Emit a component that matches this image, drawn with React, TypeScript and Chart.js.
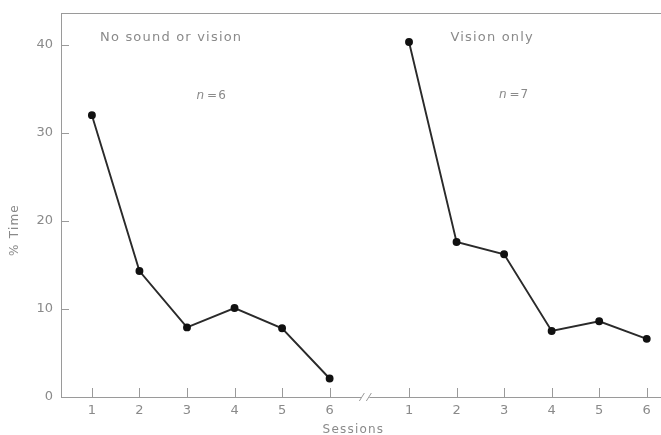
import React, { useEffect, useRef } from "react";
import { Chart, registerables } from "chart.js";

Chart.register(...registerables);

// Data
const sessions = [1, 2, 3, 4, 5, 6];
const noSoundOrVision = [32.0, 14.3, 7.9, 10.1, 7.8, 2.1];
const visionOnly = [40.3, 17.6, 16.2, 7.5, 8.6, 6.6];
const yTicks = [0, 10, 20, 30, 40];
const groupOffset = 6.67; // x offset of second group (after axis break)
const panelTitles = ["No sound or vision", "Vision only"];
const panelN = ["6", "7"];

const TEXT = "#8a8a8a";
const AXIS = "#9a9a9a";

const xPositions = [
  ...sessions.map((s) => s),
  ...sessions.map((s) => s + groupOffset),
];

const overlay = {
  id: "overlay",
  afterDraw(chart: any) {
    const { ctx, chartArea } = chart;
    const xs = chart.scales.x;
    const ys = chart.scales.y;
    ctx.save();
    ctx.strokeStyle = AXIS;
    ctx.lineWidth = 1;
    // top border
    ctx.beginPath();
    ctx.moveTo(chartArea.left, chartArea.top + 0.5);
    ctx.lineTo(chartArea.right, chartArea.top + 0.5);
    ctx.stroke();
    // y ticks (inward)
    yTicks.forEach((v) => {
      const py = Math.round(ys.getPixelForValue(v)) + 0.5;
      ctx.beginPath();
      ctx.moveTo(chartArea.left, py);
      ctx.lineTo(chartArea.left + 8, py);
      ctx.stroke();
    });
    // x ticks (inward)
    xPositions.forEach((v) => {
      const px = Math.round(xs.getPixelForValue(v)) + 0.5;
      ctx.beginPath();
      ctx.moveTo(px, chartArea.bottom + 1);
      ctx.lineTo(px, chartArea.bottom - 9);
      ctx.stroke();
    });
    // axis break mark
    const bx = xs.getPixelForValue(6 + (groupOffset - 5) * 0.45);
    const by = chartArea.bottom;
    ctx.fillStyle = "#ffffff";
    ctx.fillRect(bx - 4, by - 2, 8, 4);
    ctx.beginPath();
    ctx.moveTo(bx - 6, by + 4);
    ctx.lineTo(bx - 1, by - 4);
    ctx.moveTo(bx + 1, by + 4);
    ctx.lineTo(bx + 6, by - 4);
    ctx.stroke();

    // texts
    ctx.fillStyle = TEXT;
    ctx.textBaseline = "middle";
    ctx.font = "13px 'DejaVu Sans'";
    (ctx as any).letterSpacing = "1.2px";
    ctx.textAlign = "left";
    ctx.fillText(panelTitles[0], xs.getPixelForValue(1.17), 38);
    ctx.fillText(panelTitles[1], xs.getPixelForValue(8.54), 38);
    ctx.font = "italic 12px 'DejaVu Sans'";
    (ctx as any).letterSpacing = "1px";
    ctx.fillText("n", xs.getPixelForValue(3.2), 96);
    ctx.fillText("n", xs.getPixelForValue(9.56), 95);
    ctx.font = "12px 'DejaVu Sans'";
    const w = ctx.measureText("n").width;
    ctx.fillText("=" + panelN[0], xs.getPixelForValue(3.2) + w + 2, 96);
    ctx.fillText("=" + panelN[1], xs.getPixelForValue(9.56) + w + 2, 95);

    // axis titles
    ctx.font = "12px 'DejaVu Sans'";
    (ctx as any).letterSpacing = "1.2px";
    ctx.textAlign = "center";
    ctx.fillText("Sessions", xs.getPixelForValue(6 + (groupOffset - 5) * 0.3), 430);
    ctx.translate(15, 230);
    ctx.rotate(-Math.PI / 2);
    ctx.fillText("% Time", 0, 0);
    ctx.restore();
  },
};

export default function App() {
  const ref = useRef<HTMLCanvasElement>(null);
  useEffect(() => {
    document.body.style.margin = "0";
    document.body.style.background = "#ffffff";
    const mk = (vals: number[], off: number) =>
      vals.map((v, i) => ({ x: sessions[i] + off, y: v }));
    const ds = (label: string, data: any) => ({
      label,
      data,
      borderColor: "#2a2a2a",
      borderWidth: 1.9,
      pointBackgroundColor: "#111",
      pointBorderColor: "#111",
      pointRadius: 3,
    });
    const chart = new Chart(ref.current!, {
      type: "line",
      data: {
        datasets: [
          ds(panelTitles[0], mk(noSoundOrVision, 0)),
          ds(panelTitles[1], mk(visionOnly, groupOffset)),
        ],
      },
      options: {
        animation: false,
        responsive: false,
        layout: { autoPadding: false, padding: { top: 13, right: 0, left: 0, bottom: 0 } },
        plugins: { legend: { display: false }, tooltip: { enabled: false } },
        scales: {
          x: {
            type: "linear",
            min: 0.35,
            max: 12.97,
            afterBuildTicks: (scale: any) => {
              scale.ticks = xPositions.map((v) => ({ value: v }));
            },
            afterFit: (scale: any) => {
              scale.height = 38;
              scale.paddingLeft = 0;
              scale.paddingRight = 0;
            },
            grid: { display: false, drawTicks: false },
            border: { display: true, color: AXIS, width: 1 },
            ticks: {
              autoSkip: false,
              maxRotation: 0,
              padding: 6,
              color: TEXT,
              font: { family: "'DejaVu Sans'", size: 13 },
              callback: (v: any) => {
                const n = Number(v);
                return String(Math.round(n > 6.5 ? n - groupOffset : n));
              },
            },
          },
          y: {
            type: "linear",
            min: 0,
            max: 43.6,
            afterBuildTicks: (scale: any) => {
              scale.ticks = yTicks.map((v) => ({ value: v }));
            },
            afterFit: (scale: any) => {
              scale.width = 61;
              scale.paddingTop = 0;
              scale.paddingBottom = 0;
            },
            grid: { display: false, drawTicks: false },
            border: { display: true, color: AXIS, width: 1 },
            ticks: {
              padding: 8,
              color: TEXT,
              font: { family: "'DejaVu Sans'", size: 13 },
            },
          },
        },
      },
      plugins: [overlay],
    });
    return () => chart.destroy();
  }, []);
  return <canvas ref={ref} width={661} height={435} style={{ display: "block" }} />;
}
